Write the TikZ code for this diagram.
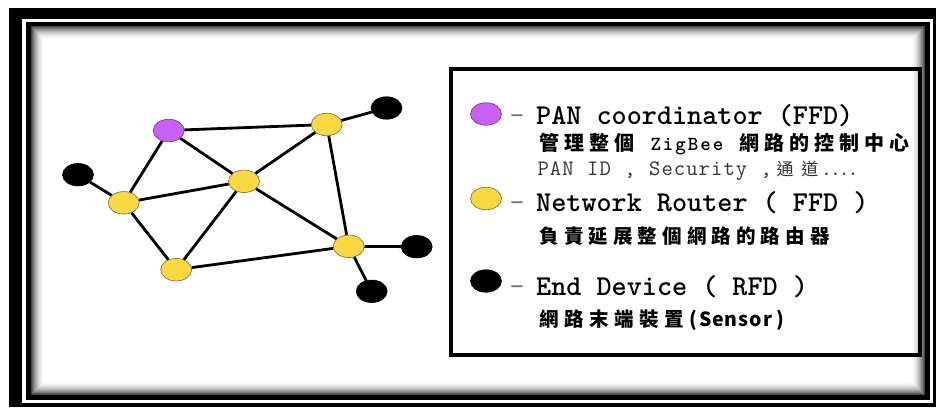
\documentclass[tikz,border=0pt]{standalone}
\usepackage{fontspec}
\usetikzlibrary{shapes.geometric}
\newfontfamily\cjk{Noto Sans CJK TC}

\definecolor{coordfill}{RGB}{200,96,245}
\definecolor{coordrim}{RGB}{110,50,140}
\definecolor{routerfill}{RGB}{250,216,66}
\definecolor{routerrim}{RGB}{120,105,45}

% Fixed-pitch row: Latin glyphs sit in cells of one pitch, CJK glyphs in
% cells of two pitches; ~ stands for an empty cell.
\makeatletter
\newdimen\mrpitch
\def\mr@end{mr@end}
\newcommand\monorow[3]{\begingroup\mrpitch=#1\relax\def\mr@cjk{#2}\mr@loop#3\mr@end\endgroup}
\def\mr@loop#1{\ifx#1\mr@end\else\mr@put#1\expandafter\mr@loop\fi}
\def\mr@put#1{\ifx#1~\hbox to\mrpitch{}\else\ifnum`#1>255 \hbox to2\mrpitch{\hss\mr@cjk#1\hss}\else\hbox to\mrpitch{\hss#1\hss}\fi\fi}
\makeatother

\tikzset{
  device/.style={ellipse, minimum width=31pt, minimum height=22.5pt, inner sep=0pt, line width=0.6pt},
  coord/.style={device, fill=coordfill, draw=coordrim},
  router/.style={device, fill=routerfill, draw=routerrim},
  enddev/.style={device, fill=black, draw=black},
  link/.style={line width=2.8pt, black},
  legendtext/.style={anchor=base west, inner sep=0pt, outer sep=0pt},
  legenddash/.style={legendtext, text=black!55, font=\fontsize{28.8}{30}\selectfont\ttfamily},
}

\begin{document}
\begin{tikzpicture}[x=1pt, y=-1pt]
\useasboundingbox (0,0) rectangle (936,407);
\fill[white] (0,0) rectangle (936,407);

% framed panel: black band, white hairline, black rule, inner shadow
\fill[black] (9,8) rectangle (936,407);
\fill[white] (22,19) rectangle (933,403);
\fill[black] (26,22) rectangle (930,400);
\fill[white] (31,26) rectangle (925,395);
\foreach \i in {0,...,13}{
  \pgfmathsetmacro\shadeval{72*(1-\i/14)^2}
  \draw[black!\shadeval, line width=1pt] ({31.5+\i},{26.5+\i}) rectangle ({924.5-\i},{394.5-\i});
}

% network
\node[coord]  (pan) at (168.7,130.5) {};
\node[router] (ra)  at (326.7,124.5) {};
\node[router] (rb)  at (123.7,202.8) {};
\node[router] (rc)  at (244,181.3) {};
\node[router] (rd)  at (176.2,269.7) {};
\node[router] (re)  at (348.7,246.3) {};
\node[enddev] (ea)  at (386.5,108) {};
\node[enddev] (eb)  at (78,174.7) {};
\node[enddev] (ec)  at (416.7,246.7) {};
\node[enddev] (ed)  at (371.7,291.3) {};

\draw[link] (pan) -- (ra);
\draw[link] (pan) -- (rb);
\draw[link] (pan) -- (rc);
\draw[link] (ra) -- (ea);
\draw[link] (ra) -- (rc);
\draw[link] (ra) -- (re);
\draw[link] (rb) -- (eb);
\draw[link] (rb) -- (rc);
\draw[link] (rb) -- (rd);
\draw[link] (rc) -- (rd);
\draw[link] (rc) -- (re);
\draw[link] (rd) -- (re);
\draw[link] (re) -- (ec);
\draw[link] (re) -- (ed);

% legend
\draw[line width=4pt] (450.5,68.5) rectangle (919.5,355);
\node[coord]  (lpan) at (486,114) {};
\node[router] (lrt)  at (486,198.5) {};
\node[enddev] (lend) at (486,281) {};

\node[legenddash] (dpan) at (509.5,124.5) {-};
\node[legenddash] (drt)  at (509.5,211.5) {-};
\node[legenddash] (dend) at (509.5,295) {-};

\node[legendtext] (tpan) at (536.2,124.5)
  {\fontsize{28.8}{30}\selectfont\ttfamily\bfseries\monorow{15.1pt}{}{PAN~coordinator~(FFD)}};
\node[legendtext] (tpan2) at (537,150.5)
  {\fontsize{20}{22}\selectfont\ttfamily\bfseries\monorow{12.5pt}{\cjk\bfseries\fontsize{20}{22}\selectfont}{管理整個~ZigBee~網路的控制中心}};
\node[legendtext, text=black!80] (tpan3) at (537,175)
  {\fontsize{22}{24}\selectfont\ttfamily\monorow{12.4pt}{\cjk\fontsize{17}{19}\selectfont}{PAN~ID~,~Security~,通道}\monorow{8.8pt}{}{....}};

\node[legendtext] (trt) at (536.2,211.5)
  {\fontsize{28.8}{30}\selectfont\ttfamily\bfseries\monorow{15.1pt}{}{Network~Router~(~FFD~)}};
\node[legendtext] (trt2) at (537,243)
  {\monorow{12.3pt}{\cjk\bfseries\fontsize{19.5}{21}\selectfont}{負責延展整個網路的路由器}};

\node[legendtext] (tend) at (536.2,295)
  {\fontsize{28.8}{30}\selectfont\ttfamily\bfseries\monorow{15.1pt}{}{End~Device~(~RFD~)}};
\node[legendtext] (tend2) at (537,326)
  {\cjk\bfseries\fontsize{19.5}{21}\selectfont\monorow{12.5pt}{}{網路末端裝置(Sensor)}};
\end{tikzpicture}
\end{document}
